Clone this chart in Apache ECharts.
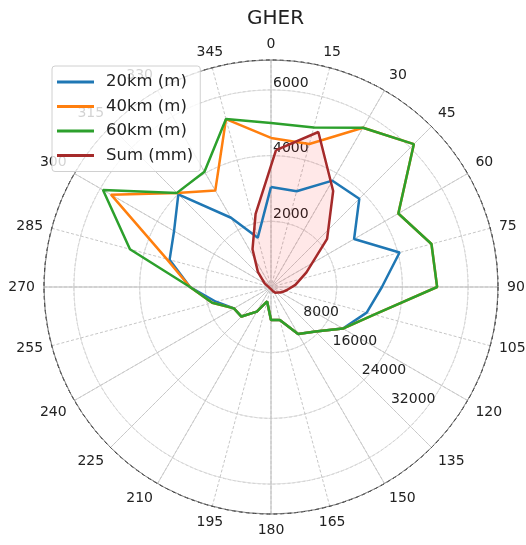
<!DOCTYPE html>
<html>
<head>
<meta charset="utf-8">
<script src="https://cdn.jsdelivr.net/npm/echarts@6/dist/echarts.min.js"></script>
<style>
html,body{margin:0;padding:0;background:#fff;}
#chart{width:526px;height:545px;}
</style>
</head>
<body>
<div id="chart"></div>
<script>
// ---- data ----
const directions = [0,15,30,45,60,75,90,105,120,135,150,165,180,195,210,225,240,255,270,285,300,315,330,345];
const km20 = [19400,19200,23800,24200,18600,25800,21500,19200,16100,12200,10500,6600,6400,2900,5500,8100,8300,11050,15700,20350,21700,25400,15500,9900];
const km40 = [28900,28700,35650,39150,28500,32200,32200,20700,16100,12200,10500,6600,6400,2900,5500,8100,8300,11800,15700,20900,35800,25800,21600,33700];
const km60 = [31800,32000,35650,39150,28500,32200,32200,20700,16100,12200,10500,6600,6400,2900,5500,8100,8300,11800,15700,28300,37600,25800,25800,33700];
const sumMm = [4260,4980,3480,2200,1070,610,335,215,150,105,90,90,90,90,90,90,90,105,140,185,400,780,1430,2400];
const mTicks = [8000,16000,24000,32000];
const mmTicks = [2000,4000,6000];
const mMax = 44000;
const mmMax = 6910;
const seriesNames = ['20km (m)','40km (m)','60km (m)','Sum (mm)'];

// ---- layout / style ----
const FONT = 'DejaVu Sans';
const C = [271, 287];
const R = 227;
const colors = ['#1f77b4','#ff7f0e','#2ca02c','#a52a2a'];

function closed(vals){
  const d = directions.map((a,i)=>[vals[i], a]);
  d.push([vals[0], 360]);
  return d;
}
const hidden = {show:false};
function hiddenAngle(start){
  return {type:'value',min:0,max:360,interval:15,startAngle:start,clockwise:true,
    axisLine:hidden,axisTick:hidden,axisLabel:hidden,splitLine:hidden};
}
function hiddenRadius(max){
  return {type:'value',min:0,max:max,axisLine:hidden,axisTick:hidden,axisLabel:hidden,splitLine:hidden};
}

const chart = echarts.init(document.getElementById('chart'), null, {renderer:'canvas'});
const option = {
  animation:false,
  backgroundColor:'#fff',
  title:{text:'GHER', left:247, top:9, padding:0,
    textStyle:{fontFamily:FONT,fontSize:20,fontWeight:'normal',color:'#222'}},
  legend:{
    orient:'vertical', left:52, top:66,
    itemWidth:37, itemHeight:3, itemGap:4.5,
    padding:[6,7,6,5],
    backgroundColor:'rgba(255,255,255,0.8)',
    borderColor:'#d0d0d0', borderWidth:1, borderRadius:3,
    textStyle:{fontFamily:FONT,fontSize:16.5,color:'#222',lineHeight:20,padding:[0,0,0,7]},
    itemStyle:{borderWidth:0},
    data:seriesNames.map(n=>({name:n,icon:'rect'}))
  },
  polar:[
    {center:C,radius:R},   // 0 dashed grid, angle labels, mm labels
    {center:C,radius:R},   // 1 solid 30° grid
    {center:C,radius:R},   // 2 solid 45° grid
    {center:C,radius:R},   // 3 m data
    {center:C,radius:R},   // 4 m labels
    {center:[276,290],radius:R} // 5 mm data
  ],
  angleAxis:[
    {polarIndex:0,type:'value',min:0,max:360,interval:15,startAngle:90,clockwise:true,
      axisLine:{show:true,lineStyle:{color:'#000',width:1,type:[4,3]}},
      axisTick:hidden,
      axisLabel:{show:true,margin:9,
        fontFamily:FONT,fontSize:14,color:'#222',
        formatter:v=>(v>=360?'':String(v))},
      splitLine:{show:true,lineStyle:{color:'#b8b8b8',width:0.8,type:[3,2]}}},
    {polarIndex:1,type:'value',min:0,max:360,interval:30,startAngle:90,clockwise:true,
      axisLine:{show:true,lineStyle:{color:'#777',width:0.8}},
      axisTick:hidden,axisLabel:hidden,
      splitLine:{show:true,lineStyle:{color:'#c8c8c8',width:0.8}}},
    {polarIndex:2,type:'value',min:0,max:360,interval:45,startAngle:90,clockwise:true,
      axisLine:hidden,axisTick:hidden,axisLabel:hidden,
      splitLine:{show:true,lineStyle:{color:'#c8c8c8',width:0.8}}},
    Object.assign(hiddenAngle(90),{polarIndex:3}),
    Object.assign(hiddenAngle(-45),{polarIndex:4}),
    Object.assign(hiddenAngle(90),{polarIndex:5})
  ],
  radiusAxis:[
    {polarIndex:0,type:'value',min:0,max:mmMax,interval:2000,
      axisLine:hidden,axisTick:hidden,
      axisLabel:{show:true,rotate:0,margin:-2,align:'left',verticalAlign:'bottom',
        fontFamily:FONT,fontSize:14,color:'#222',
        formatter:v=>(mmTicks.indexOf(v)>=0?String(v):'')},
      splitLine:{show:true,lineStyle:{color:'#b8b8b8',width:0.8,type:[3,2]}}},
    {polarIndex:1,type:'value',min:0,max:mmMax,interval:2000,
      axisLine:hidden,axisTick:hidden,axisLabel:hidden,
      splitLine:{show:true,lineStyle:{color:'#dcdcdc',width:0.8}}},
    Object.assign(hiddenRadius(mmMax),{polarIndex:2}),
    Object.assign(hiddenRadius(mMax),{polarIndex:3}),
    {polarIndex:4,type:'value',min:0,max:mMax,interval:8000,
      axisLine:hidden,axisTick:hidden,splitLine:hidden,
      axisLabel:{show:true,rotate:0,margin:-4,align:'left',verticalAlign:'bottom',
        padding:[0,0,0,6],
        fontFamily:FONT,fontSize:14,color:'#222',
        formatter:v=>(mTicks.indexOf(v)>=0?String(v):'')}},
    Object.assign(hiddenRadius(mmMax),{polarIndex:5})
  ],
  series:[
    {name:seriesNames[0],type:'line',coordinateSystem:'polar',polarIndex:3,symbol:'none',
      data:closed(km20),lineStyle:{color:colors[0],width:2.5},itemStyle:{color:colors[0]},z:3},
    {name:seriesNames[1],type:'line',coordinateSystem:'polar',polarIndex:3,symbol:'none',
      data:closed(km40),lineStyle:{color:colors[1],width:2.5},itemStyle:{color:colors[1]},z:3},
    {name:seriesNames[2],type:'line',coordinateSystem:'polar',polarIndex:3,symbol:'none',
      data:closed(km60),lineStyle:{color:colors[2],width:2.5},itemStyle:{color:colors[2]},z:3},
    {name:seriesNames[3],type:'line',coordinateSystem:'polar',polarIndex:5,symbol:'none',
      data:closed(sumMm),lineStyle:{color:colors[3],width:2.5},itemStyle:{color:colors[3]},
      areaStyle:{color:'rgba(255,0,0,0.13)'},z:3}
  ]
};
chart.setOption(option);
</script>
</body>
</html>
